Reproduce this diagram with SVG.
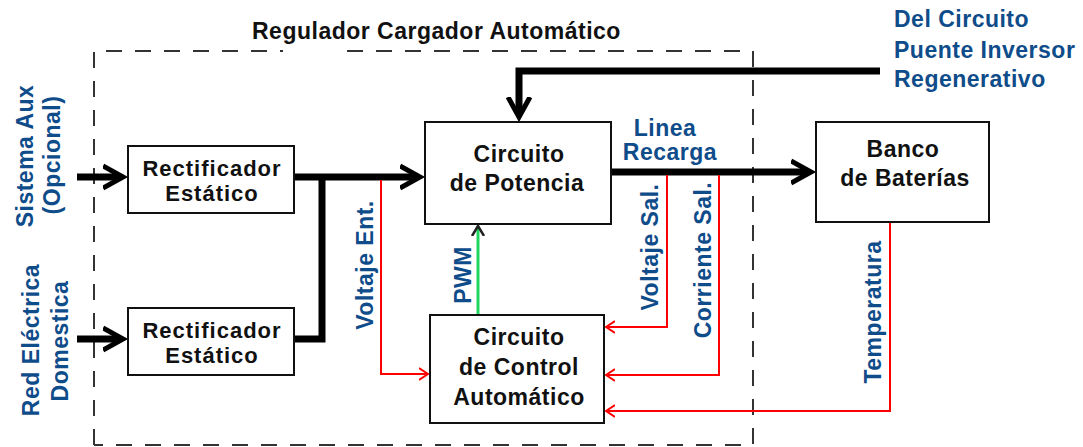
<svg xmlns="http://www.w3.org/2000/svg" width="1083" height="447" viewBox="0 0 1083 447">
<defs>
<style>
.box{fill:#fff;stroke:#111;stroke-width:2}
.nt{font-family:"Liberation Sans",Arial,sans-serif;font-weight:bold;font-size:23px;letter-spacing:0.5px;fill:#111;text-anchor:middle}
.rt{font-size:22px;letter-spacing:1px}
.bl{font-family:"Liberation Sans",Arial,sans-serif;font-weight:bold;font-size:23px;letter-spacing:0.5px;fill:#0f4c8a}
.mid{text-anchor:middle}
.thick{fill:none;stroke:#000;stroke-width:7}
.red{fill:none;stroke:#ff0000;stroke-width:2}
.dash{fill:none;stroke:#333;stroke-width:2;stroke-dasharray:16 13}
</style>
<marker id="ah" viewBox="0 -14 28 28" refX="18" refY="0" markerWidth="28" markerHeight="28" markerUnits="userSpaceOnUse" orient="auto">
<path d="M0,-11 L20,0 L0,11" fill="none" stroke="#000" stroke-width="5"/>
</marker>
<marker id="rh" viewBox="0 -8 14 16" refX="9" refY="0" markerWidth="14" markerHeight="16" markerUnits="userSpaceOnUse" orient="auto">
<path d="M0,-6 L9,0 L0,6" fill="none" stroke="#ff0000" stroke-width="2"/>
</marker>
<marker id="gh" viewBox="0 -8 14 16" refX="10" refY="0" markerWidth="14" markerHeight="16" markerUnits="userSpaceOnUse" orient="auto">
<path d="M0,-6 L10,0 L0,6" fill="none" stroke="#222" stroke-width="2.5"/>
</marker>
</defs>
<rect width="1083" height="447" fill="#fff"/>

<g id="regulador-frame">
<path class="dash" d="M94,445 L94,51 L283,51"/>
<path class="dash" d="M347,51 L753,51 L753,445 L94,445"/>
<text x="252" y="39" class="nt" style="text-anchor:start">Regulador Cargador Automático</text>
</g>

<g id="connectors">
<path class="thick" d="M77,177 L121,177" marker-end="url(#ah)"/>
<path class="thick" d="M77,339 L121,339" marker-end="url(#ah)"/>
<path class="thick" d="M294,177 L418,177" marker-end="url(#ah)"/>
<path class="thick" d="M294,339 L322,339 L322,177"/>
<path class="thick" d="M611,172 L809,172" marker-end="url(#ah)"/>
<path class="thick" d="M880,71 L519,71 L519,115" marker-end="url(#ah)" stroke-linejoin="miter"/>
<path d="M478,315 L478,226" fill="none" stroke="#1fd65f" stroke-width="3" marker-end="url(#gh)"/>
<path class="red" d="M381,180 L381,374 L428,374" marker-end="url(#rh)"/>
<path class="red" d="M667,175 L667,327 L606,327" marker-end="url(#rh)"/>
<path class="red" d="M719,175 L719,375 L606,375" marker-end="url(#rh)"/>
<path class="red" d="M890,223 L890,411 L606,411" marker-end="url(#rh)"/>
</g>

<g id="rectificador-1">
<rect class="box" x="128" y="146" width="166" height="67"/>
<text class="nt rt" x="212" y="176">Rectificador</text>
<text class="nt rt" x="212" y="201">Estático</text>
</g>
<g id="rectificador-2">
<rect class="box" x="128" y="308" width="166" height="67"/>
<text class="nt rt" x="212" y="338">Rectificador</text>
<text class="nt rt" x="212" y="363">Estático</text>
</g>
<g id="circuito-potencia">
<rect class="box" x="425" y="122" width="186" height="102"/>
<text class="nt" x="519" y="162">Circuito</text>
<text class="nt" x="517" y="191">de Potencia</text>
</g>
<g id="circuito-control">
<rect class="box" x="430" y="315" width="174" height="108"/>
<text class="nt" x="519" y="345">Circuito</text>
<text class="nt" x="519" y="375">de Control</text>
<text class="nt" x="519" y="405">Automático</text>
</g>
<g id="banco-baterias">
<rect class="box" x="816" y="122" width="173" height="100"/>
<text class="nt" x="903" y="157">Banco</text>
<text class="nt" x="905" y="186">de Baterías</text>
</g>

<g id="labels">
<text class="bl" x="894" y="27">Del Circuito</text>
<text class="bl" x="894" y="58">Puente Inversor</text>
<text class="bl" x="894" y="87">Regenerativo</text>
<text class="bl mid" x="665" y="136">Linea</text>
<text class="bl mid" x="670" y="160">Recarga</text>
<text class="bl mid" x="33" y="156" transform="rotate(-90 33 156)">Sistema Aux</text>
<text class="bl mid" x="60" y="155" transform="rotate(-90 60 155)">(Opcional)</text>
<text class="bl mid" x="39" y="340" transform="rotate(-90 39 340)">Red Eléctrica</text>
<text class="bl mid" x="68" y="341" transform="rotate(-90 68 341)">Domestica</text>
<text class="bl mid" x="373" y="265" transform="rotate(-90 373 265)">Voltaje Ent.</text>
<text class="bl mid" x="471" y="275" transform="rotate(-90 471 275)">PWM</text>
<text class="bl mid" x="658" y="247" transform="rotate(-90 658 247)">Voltaje Sal.</text>
<text class="bl mid" x="711" y="260" transform="rotate(-90 711 260)">Corriente Sal.</text>
<text class="bl mid" x="881" y="312" transform="rotate(-90 881 312)">Temperatura</text>
</g>
</svg>
